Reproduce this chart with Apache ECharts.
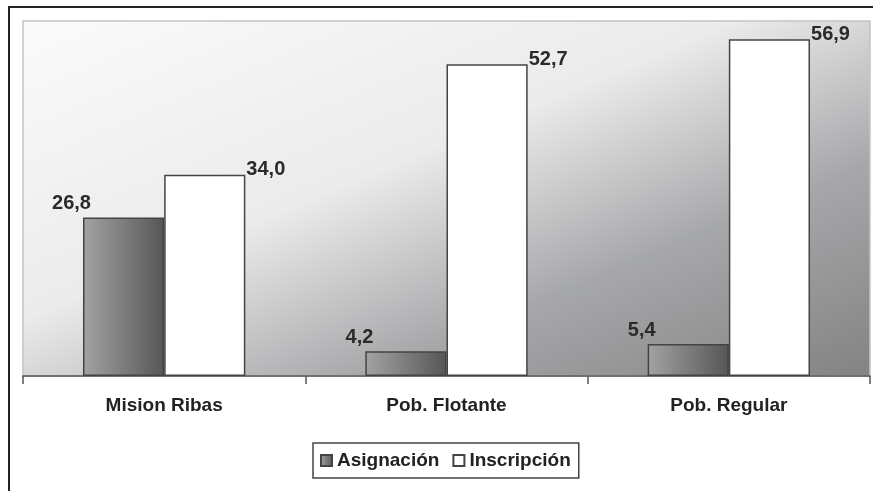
<!DOCTYPE html>
<html>
<head>
<meta charset="utf-8">
<script src="https://cdn.jsdelivr.net/npm/echarts@6/dist/echarts.min.js"></script>
<style>
html,body{margin:0;padding:0;background:#fff;overflow:hidden;}
#frame{position:absolute;left:8px;top:6px;width:900px;height:600px;border:2px solid #222;box-sizing:border-box;}
#chart{position:absolute;left:0;top:0;width:873px;height:491px;}
</style>
</head>
<body>
<div id="frame"></div>
<div id="chart"></div>
<script>
const categories = ['Mision Ribas', 'Pob. Flotante', 'Pob. Regular'];
const asignacion = [26.8, 4.2, 5.4];
const inscripcion = [34.0, 52.7, 56.9];
const seriesNames = ['Asignación', 'Inscripción'];

const fmt = p => p.value.toFixed(1).replace('.', ',');
const font = '"Liberation Sans", Arial, sans-serif';

const chart = echarts.init(document.getElementById('chart'), null, {renderer: 'canvas'});
chart.setOption({
  backgroundColor: 'transparent',
  animation: false,
  grid: {
    left: 23, right: 3, top: 21, bottom: 115,
    show: true,
    borderColor: '#c4c4c4',
    borderWidth: 1.5,
    backgroundColor: {
      type: 'linear', x: 0, y: 0, x2: 0.3, y2: 1.7,
      colorStops: [
        {offset: 0, color: '#fbfbfb'},
        {offset: 0.42, color: '#ebebeb'},
        {offset: 0.7, color: '#a6a7a9'},
        {offset: 1, color: '#838383'}
      ]
    }
  },
  legend: {
    data: seriesNames,
    left: 313, top: 443,
    orient: 'horizontal',
    icon: 'rect',
    itemWidth: 11, itemHeight: 11, itemGap: 13,
    padding: [8, 8, 8, 7],
    borderColor: '#444', borderWidth: 1.5,
    backgroundColor: '#fff',
    textStyle: {fontFamily: font, fontWeight: 'bold', fontSize: 19, color: '#222'}
  },
  xAxis: {
    type: 'category',
    data: categories,
    axisLine: {lineStyle: {color: '#555', width: 1.5}},
    axisTick: {show: true, length: 8, lineStyle: {color: '#555', width: 1.5}},
    axisLabel: {margin: 20, fontFamily: font, fontWeight: 'bold', fontSize: 19, color: '#222'}
  },
  yAxis: {
    type: 'value', min: 0, max: 60, show: false,
    splitLine: {show: false}
  },
  series: [
    {
      name: seriesNames[0], type: 'bar', data: asignacion,
      barGap: '0%', barCategoryGap: '42.5%',
      itemStyle: {
        borderColor: '#444', borderWidth: 1.5,
        color: {type: 'linear', x: 0, y: 0, x2: 1, y2: 0,
          colorStops: [{offset: 0, color: '#a3a3a3'}, {offset: 1, color: '#565656'}]}
      },
      label: {
        show: true, position: [0, 0], align: 'right', verticalAlign: 'middle',
        offset: [8, -14], formatter: fmt,
        fontFamily: font, fontWeight: 'bold', fontSize: 20, color: '#2a2a2a'
      }
    },
    {
      name: seriesNames[1], type: 'bar', data: inscripcion,
      itemStyle: {color: '#ffffff', borderColor: '#444', borderWidth: 1.5},
      label: {
        show: true, position: ['100%', 0], align: 'left', verticalAlign: 'middle',
        offset: [1, -5], formatter: fmt,
        fontFamily: font, fontWeight: 'bold', fontSize: 20, color: '#2a2a2a'
      }
    }
  ]
});
</script>
</body>
</html>
